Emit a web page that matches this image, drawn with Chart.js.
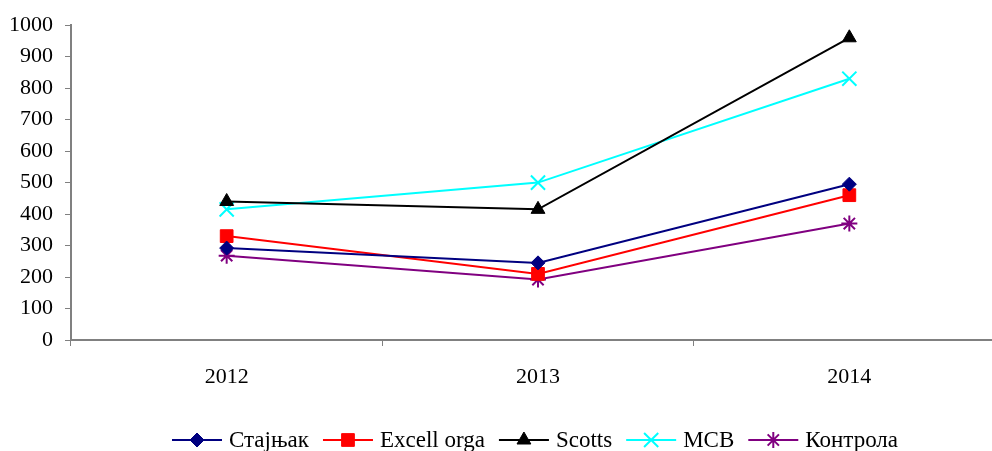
<!DOCTYPE html>
<html>
<head>
<meta charset="utf-8">
<script src="https://cdn.jsdelivr.net/npm/chart.js@4/dist/chart.umd.min.js"></script>
<style>
  html, body { margin: 0; padding: 0; background: #fff; overflow: hidden; }
  #wrap { width: 1017px; height: 451px; position: relative; }
</style>
</head>
<body>
<div id="wrap"><canvas id="c"></canvas></div>
<script>
const years = ['2012', '2013', '2014'];
const stajnjak = [292, 245, 495];
const excellOrga = [330, 210, 460];
const scotts = [440, 415, 960];
const mcb = [415, 500, 830];
const kontrola = [268, 192, 370];

const seriesNames = ['Стајњак', 'Excell orga', 'Scotts', 'MCB', 'Контрола'];
const seriesValues = [stajnjak, excellOrga, scotts, mcb, kontrola];
const seriesColors = ['#000080', '#FF0000', '#000000', '#00FFFF', '#800080'];
const seriesMarkers = ['rectRot', 'rect', 'triangle', 'crossRot', 'star'];
const markerRadius = [7, 9, 8, 10, 8];

const FONT = "'Liberation Serif', 'Times New Roman', serif";

const datasets = seriesNames.map((name, i) => ({
  label: name,
  data: seriesValues[i],
  borderColor: seriesColors[i],
  backgroundColor: seriesColors[i],
  pointBackgroundColor: seriesColors[i],
  pointBorderColor: seriesColors[i],
  pointStyle: seriesMarkers[i],
  pointRadius: markerRadius[i],
  pointHoverRadius: markerRadius[i],
  pointBorderWidth: (seriesMarkers[i] === 'crossRot' || seriesMarkers[i] === 'star') ? 2 : 1,
  borderWidth: 2,
  tension: 0,
  fill: false
}));

// Legend drawn beneath the plot: short line with the series marker, then the name
const lineLegend = {
  id: 'lineLegend',
  afterDraw(chart) {
    const ctx = chart.ctx;
    const y = 440;
    let x = 172;
    ctx.save();
    ctx.font = '23px ' + FONT;
    ctx.textBaseline = 'middle';
    ctx.textAlign = 'left';
    chart.data.datasets.forEach(ds => {
      ctx.strokeStyle = ds.borderColor;
      ctx.lineWidth = 2;
      ctx.beginPath();
      ctx.moveTo(x, y);
      ctx.lineTo(x + 50, y);
      ctx.stroke();
      ctx.fillStyle = ds.pointBackgroundColor;
      ctx.strokeStyle = ds.pointBorderColor;
      ctx.lineWidth = ds.pointBorderWidth;
      Chart.helpers.drawPoint(ctx, {
        pointStyle: ds.pointStyle,
        radius: ds.pointRadius,
        rotation: 0,
        borderWidth: ds.pointBorderWidth
      }, x + 25, y);
      ctx.fillStyle = '#000';
      ctx.fillText(ds.label, x + 57, y + 1);
      x += 57 + ctx.measureText(ds.label).width + 14;
    });
    ctx.restore();
  }
};

new Chart(document.getElementById('c'), {
  type: 'line',
  data: { labels: years, datasets },
  options: {
    responsive: true,
    maintainAspectRatio: false,
    animation: false,
    layout: { padding: { top: 23, right: 4, bottom: 51, left: 0 } },
    plugins: {
      legend: { display: false },
      tooltip: { enabled: false }
    },
    scales: {
      x: {
        type: 'category',
        offset: true,
        grid: {
          offset: true,
          drawOnChartArea: false,
          drawTicks: true,
          tickLength: 6,
          color: '#808080',
          lineWidth: 1
        },
        border: { display: true, color: '#808080', width: 2 },
        ticks: {
          color: '#000',
          font: { family: FONT, size: 22 },
          padding: 18,
          maxRotation: 0
        },
        afterFit(scale) { scale.height = 60; }
      },
      y: {
        min: 0,
        max: 1000,
        grid: {
          drawOnChartArea: false,
          drawTicks: true,
          tickLength: 6,
          color: '#808080'
        },
        border: { display: true, color: '#808080', width: 2 },
        ticks: {
          stepSize: 100,
          color: '#000',
          font: { family: FONT, size: 22 },
          padding: 12,
          callback: v => String(v)
        },
        afterFit(scale) { scale.width = 71; }
      }
    }
  },
  plugins: [lineLegend]
});
</script>
</body>
</html>
